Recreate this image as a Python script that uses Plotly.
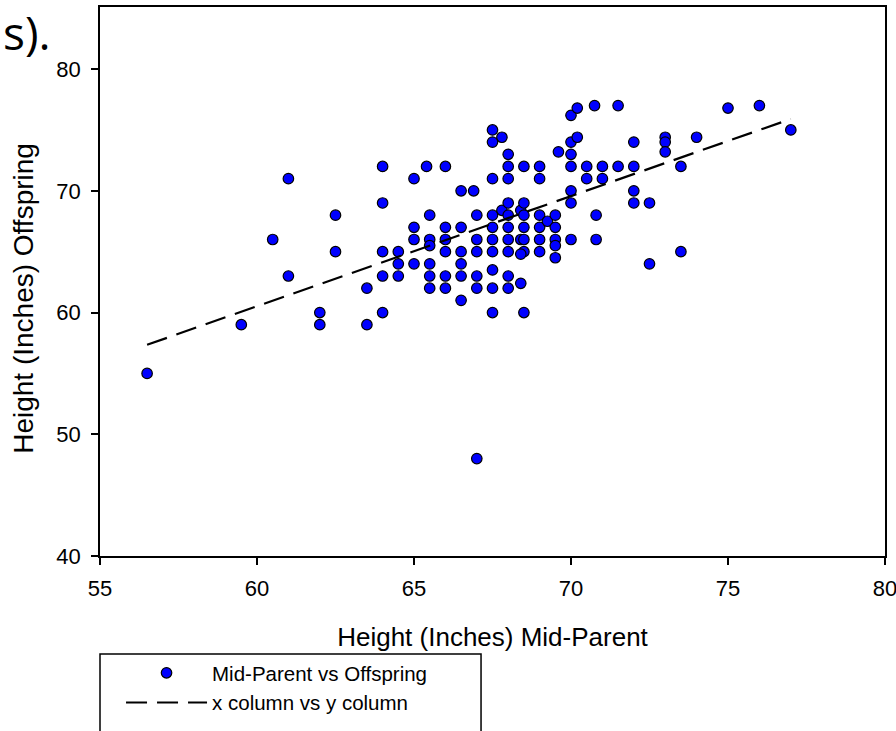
import plotly.graph_objects as go

# Mid-parent height (x) and offspring height (y), inches
mid_parent = [
    56.5, 59.5, 60.5, 61, 61, 62, 62, 62.5, 62.5,
    63.5, 63.5, 64, 64, 64, 64, 64, 64.5, 64.5, 64.5,
    65, 65, 65, 65, 65.4, 65.5, 65.5, 65.5, 65.5, 65.5, 65.5,
    66, 66, 66, 66, 66, 66, 66.5, 66.9, 66.5, 66.5, 66.5, 66.5, 66.5,
    67, 67, 67, 67, 67, 67,
    67.5, 67.8, 67.5, 67.5, 67.5, 67.5, 67.5, 67.5, 67.5, 67.5, 67.5, 67.8,
    68, 68, 68, 68, 68, 68, 68, 68, 68, 68,
    68.4, 68.5, 68.5, 68.5, 68.4, 68.5, 68.5, 68.4, 68.4, 68.5, 68.5,
    69, 69, 69, 69, 69, 69, 69.25,
    69.5, 69.5, 69.5, 69.5, 69.5, 69.6,
    70, 70, 70.2, 70, 70, 70, 70, 70, 70.2,
    70.75, 71.5, 70.5, 71, 71.5, 72, 70.5, 71, 72, 72, 72, 72.5,
    70.8, 70.8, 72.5, 73.5, 73, 73, 73, 73.5, 74, 75, 76, 77,
]
offspring = [
    55, 59, 66, 71, 63, 60, 59, 68, 65,
    62, 59, 72, 69, 65, 63, 60, 65, 64, 63,
    71, 67, 66, 64, 72, 68, 66, 65.5, 64, 63, 62,
    72, 67, 66, 65, 63, 62, 70, 70, 67, 65, 64, 63, 61,
    68, 66, 65, 63, 62, 48,
    75, 74.4, 74, 71, 68, 67, 66, 65, 63.5, 62, 60, 68.4,
    73, 72, 71, 69, 68, 67, 66, 65, 63, 62,
    68.4, 69, 68, 67, 66, 66, 65, 64.8, 62.4, 60, 72,
    72, 71, 68, 67, 66, 65, 67.5,
    68, 67, 66, 65.5, 64.5, 73.2,
    76.2, 74, 74.4, 73, 72, 70, 69, 66, 76.8,
    77, 77, 72, 72, 72, 72, 71, 71, 74, 70, 69, 69,
    68, 66, 64, 65, 74.4, 74, 73.2, 72, 74.4, 76.8, 77, 75,
]

# Fitted line endpoints (x column vs y column)
fit_x = [56.5, 77]
fit_y = [57.35, 75.9]

x_ticks = [55, 60, 65, 70, 75, 80]
y_ticks = [40, 50, 60, 70, 80]

FONT = "Liberation Sans, Arial, sans-serif"

fig = go.Figure()
fig.add_trace(go.Scatter(
    x=mid_parent, y=offspring, mode="markers",
    name="Mid-Parent vs Offspring",
    marker=dict(size=10.5, color="#0000FF", line=dict(color="black", width=1.2)),
))
fig.add_trace(go.Scatter(
    x=fit_x, y=fit_y, mode="lines",
    name="x column vs y column",
    line=dict(color="black", width=2.2, dash="21px,10px"),
))

axis_common = dict(
    showgrid=False, zeroline=False, automargin=False,
    showline=True, linecolor="black", linewidth=1.5, mirror=True,
    ticks="outside", ticklen=7, tickwidth=1.5, tickcolor="black",
    tickfont=dict(family=FONT, size=22, color="black"),
)

fig.update_xaxes(
    range=[55, 80], tickvals=x_ticks, ticklabelstandoff=5,
    ticklabeloverflow="allow",
    title=dict(text="Height (Inches) Mid-Parent", standoff=28,
               font=dict(family=FONT, size=26, color="black")),
    **axis_common,
)
fig.update_yaxes(
    range=[40, 85.1], tickvals=y_ticks, ticklabelstandoff=6,
    **axis_common,
)

fig.update_layout(
    width=896, height=731,
    margin=dict(l=100, r=11, t=7, b=175),
    paper_bgcolor="white", plot_bgcolor="white",
    font=dict(family=FONT, color="black"),
    showlegend=True,
    legend=dict(
        xref="paper", yref="paper",
        x=0.0268, y=-0.1767, xanchor="left", yanchor="top",
        bgcolor="rgba(0,0,0,0)", borderwidth=0,
        font=dict(family=FONT, size=20.5, color="black"),
        itemwidth=81, tracegroupgap=0,
    ),
    shapes=[dict(
        type="rect", xref="paper", yref="paper",
        x0=0.0, x1=0.4854, y0=-0.1785, y1=-0.40,
        line=dict(color="black", width=1.5), fillcolor="rgba(0,0,0,0)",
    )],
    annotations=[
        dict(text="Height (Inches) Offspring", textangle=-90,
             xref="paper", yref="paper", x=-0.097, y=0.47,
             xanchor="center", yanchor="middle", showarrow=False,
             font=dict(family=FONT, size=28, color="black")),
        dict(text="s).", xref="paper", yref="paper",
             x=-0.125, y=1.0127, xanchor="left", yanchor="top",
             showarrow=False, borderpad=0,
             font=dict(family="Open Sans, Noto Sans, sans-serif", size=46, color="black")),
    ],
)

fig.write_html("out.html")
